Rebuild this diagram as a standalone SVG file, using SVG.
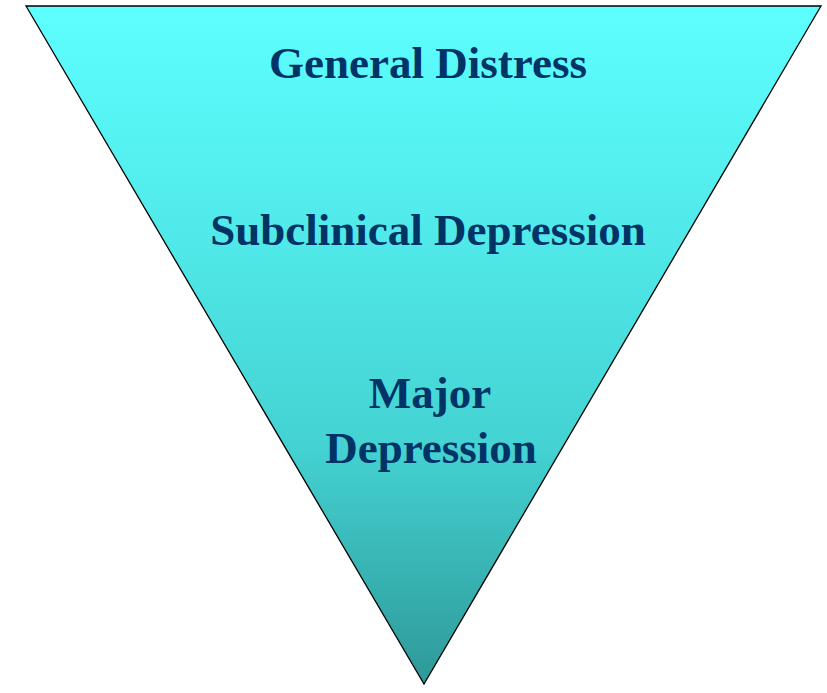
<svg xmlns="http://www.w3.org/2000/svg" width="827" height="693" viewBox="0 0 827 693">
<style>
.lbl{font-family:"Liberation Serif","Times New Roman",serif;font-weight:bold;font-size:45px;fill:#003366;text-anchor:middle}
</style>
<defs>
<linearGradient id="g" x1="0" y1="6" x2="0" y2="684" gradientUnits="userSpaceOnUse">
<stop offset="0" stop-color="#5effff"/>
<stop offset="0.35" stop-color="#50e8e8"/>
<stop offset="0.65" stop-color="#44d2d2"/>
<stop offset="1" stop-color="#2e9898"/>
</linearGradient>
</defs>
<g id="pyramid">
<polygon points="26,6 821,6 424,684" fill="url(#g)" stroke="#000" stroke-width="1.3"/>
</g>
<g id="connectors"/>
<g id="general"><text class="lbl" x="428" y="78">General Distress</text></g>
<g id="subclinical"><text class="lbl" x="428" y="245">Subclinical Depression</text></g>
<g id="major"><text class="lbl" x="430" y="408">Major</text><text class="lbl" x="431" y="463">Depression</text></g>
</svg>
